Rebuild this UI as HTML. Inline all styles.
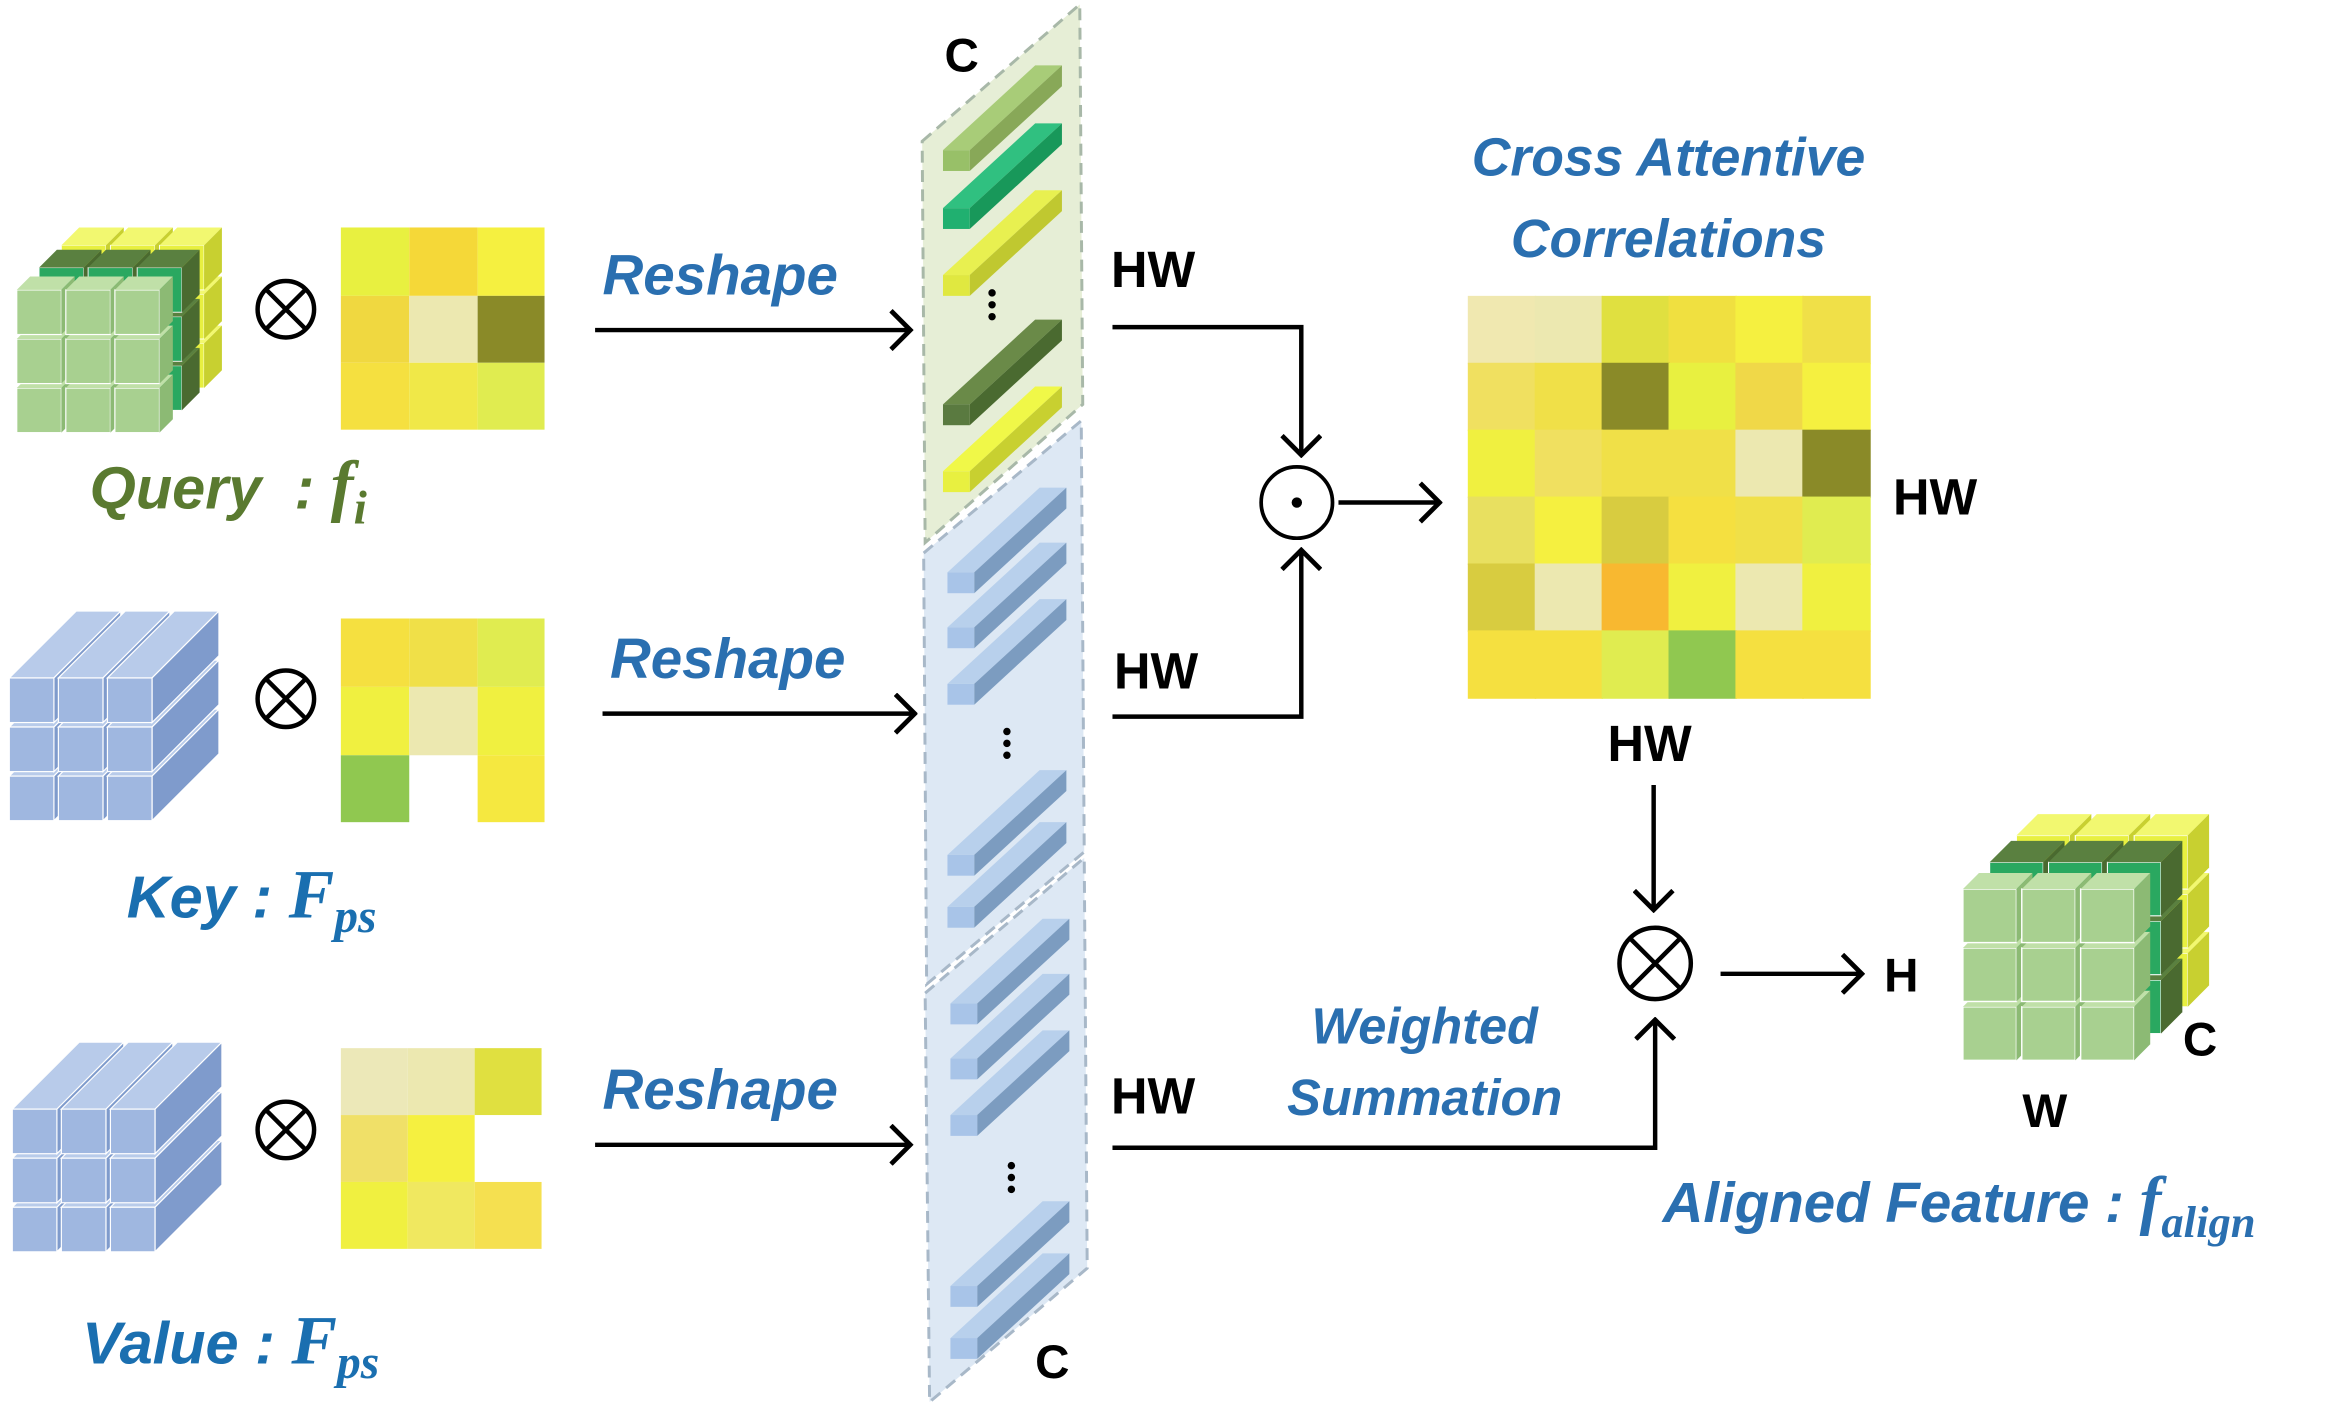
<!DOCTYPE html>
<html><head><meta charset="utf-8"><style>
html,body{margin:0;padding:0;background:#fff}
svg{display:block}
.t{font-family:"Liberation Sans",sans-serif;font-weight:bold;font-style:italic}
.b{font-family:"Liberation Sans",sans-serif;font-weight:bold;fill:#000}
</style></head><body>
<svg width="2332" height="1402" viewBox="0 0 1568 943" xmlns="http://www.w3.org/2000/svg">
<defs>
<marker id="ah" markerWidth="16" markerHeight="28" refX="14" refY="14" orient="auto" markerUnits="userSpaceOnUse" viewBox="0 0 16 28">
<path d="M1,1 L14,14 L1,27" fill="none" stroke="#000" stroke-width="3.2"/></marker>
<g id="cy"><rect x="0" y="0" width="30" height="30" fill="#e8f040" stroke="#fff" stroke-width="0.6"/><polygon points="0,0 12,-12 42,-12 30,0" fill="#f2f870"/><polygon points="30,0 42,-12 42,18 30,30" fill="#c8d030"/></g>
<g id="cd"><rect x="0" y="0" width="30" height="30" fill="#2aa860" stroke="#fff" stroke-width="0.6"/><polygon points="0,0 12,-12 42,-12 30,0" fill="#5a8040"/><polygon points="30,0 42,-12 42,18 30,30" fill="#4a6a30"/></g>
<g id="cg"><rect x="0" y="0" width="30" height="30" fill="#a8d090" stroke="#fff" stroke-width="0.8"/><polygon points="0,0 9,-9 39,-9 30,0" fill="#c0e0a8"/><polygon points="30,0 39,-9 39,21 30,30" fill="#8cba74"/></g>
<g id="Ly"><use href="#cy" x="0" y="66"/><use href="#cy" x="33" y="66"/><use href="#cy" x="66" y="66"/><use href="#cy" x="0" y="33"/><use href="#cy" x="33" y="33"/><use href="#cy" x="66" y="33"/><use href="#cy" x="0" y="0"/><use href="#cy" x="33" y="0"/><use href="#cy" x="66" y="0"/></g>
<g id="Ld"><use href="#cd" x="0" y="66"/><use href="#cd" x="33" y="66"/><use href="#cd" x="66" y="66"/><use href="#cd" x="0" y="33"/><use href="#cd" x="33" y="33"/><use href="#cd" x="66" y="33"/><use href="#cd" x="0" y="0"/><use href="#cd" x="33" y="0"/><use href="#cd" x="66" y="0"/></g>
<g id="Lg"><use href="#cg" x="0" y="66"/><use href="#cg" x="33" y="66"/><use href="#cg" x="66" y="66"/><use href="#cg" x="0" y="33"/><use href="#cg" x="33" y="33"/><use href="#cg" x="66" y="33"/><use href="#cg" x="0" y="0"/><use href="#cg" x="33" y="0"/><use href="#cg" x="66" y="0"/></g>
<g id="qc"><use href="#Ly" x="30" y="-30"/><use href="#Ld" x="15" y="-15"/><use href="#Lg" x="0" y="0"/></g>
<g id="bb"><polygon points="0,0 45,-45 75,-45 30,0" fill="#b8cbea" stroke="#fff" stroke-width="0.8"/><polygon points="30,0 75,-45 75,-15 30,30" fill="#7f9bcc" stroke="#fff" stroke-width="0.8"/><rect x="0" y="0" width="30" height="30" fill="#9fb7e0" stroke="#fff" stroke-width="0.8"/></g>
<g id="kc"><use href="#bb" x="0" y="66"/><use href="#bb" x="33" y="66"/><use href="#bb" x="66" y="66"/><use href="#bb" x="0" y="33"/><use href="#bb" x="33" y="33"/><use href="#bb" x="66" y="33"/><use href="#bb" x="0" y="0"/><use href="#bb" x="33" y="0"/><use href="#bb" x="66" y="0"/></g>
<g id="bl"><polygon points="0,0 62,-57 80,-57 18,0" fill="#b8d0ec"/><polygon points="18,0 80,-57 80,-43 18,14" fill="#7c9cc0"/><rect width="18" height="14" fill="#a8c4e8"/></g>
</defs>

<!-- Query -->
<use href="#qc" x="11" y="195"/>
<circle cx="192" cy="208" r="19" fill="none" stroke="#000" stroke-width="3"/>
<path d="M179,195 L205,221 M205,195 L179,221" stroke="#000" stroke-width="3"/>
<g>
<rect x="229" y="153" width="46" height="46" fill="#e8f040"/><rect x="275" y="153" width="46" height="46" fill="#f5d838"/><rect x="321" y="153" width="45" height="46" fill="#f5f040"/>
<rect x="229" y="199" width="46" height="45" fill="#f0d840"/><rect x="275" y="199" width="46" height="45" fill="#ece8b0"/><rect x="321" y="199" width="45" height="45" fill="#8a8a28"/>
<rect x="229" y="244" width="46" height="45" fill="#f5e040"/><rect x="275" y="244" width="46" height="45" fill="#f0e848"/><rect x="321" y="244" width="45" height="45" fill="#e0ec50"/>
</g>
<text x="60" y="342" class="t" font-size="40" fill="#5a7a30">Query&#160; : <tspan font-family="Liberation Serif" font-size="46">f</tspan><tspan font-family="Liberation Serif" font-size="32" dy="10">i</tspan></text>
<text x="405" y="198" class="t" font-size="38" fill="#2a6fb0">Reshape</text>
<line x1="400" y1="222" x2="612" y2="222" stroke="#000" stroke-width="3" marker-end="url(#ah)"/>

<!-- Key -->
<use href="#kc" x="6" y="456"/>
<circle cx="192" cy="470" r="19" fill="none" stroke="#000" stroke-width="3"/>
<path d="M179,457 L205,483 M205,457 L179,483" stroke="#000" stroke-width="3"/>
<g>
<rect x="229" y="416" width="46" height="46" fill="#f5e040"/><rect x="275" y="416" width="46" height="46" fill="#f0e048"/><rect x="321" y="416" width="45" height="46" fill="#e0ec50"/>
<rect x="229" y="462" width="46" height="46" fill="#f0f040"/><rect x="275" y="462" width="46" height="46" fill="#ece8b0"/><rect x="321" y="462" width="45" height="46" fill="#f0f040"/>
<rect x="229" y="508" width="46" height="45" fill="#90c850"/><rect x="321" y="508" width="45" height="45" fill="#f5e840"/>
</g>
<text x="85" y="617" class="t" font-size="40" fill="#1a6fb0">Key : <tspan font-family="Liberation Serif" font-size="46">F</tspan><tspan font-family="Liberation Serif" font-size="32" dy="10">ps</tspan></text>
<text x="410" y="456" class="t" font-size="38" fill="#2a6fb0">Reshape</text>
<line x1="405" y1="480" x2="615" y2="480" stroke="#000" stroke-width="3" marker-end="url(#ah)"/>

<!-- Value -->
<use href="#kc" x="8" y="746"/>
<circle cx="192" cy="760" r="19" fill="none" stroke="#000" stroke-width="3"/>
<path d="M179,747 L205,773 M205,747 L179,773" stroke="#000" stroke-width="3"/>
<g>
<rect x="229" y="705" width="45" height="45" fill="#ece8b8"/><rect x="274" y="705" width="45" height="45" fill="#ece8b0"/><rect x="319" y="705" width="45" height="45" fill="#e0e040"/>
<rect x="229" y="750" width="45" height="45" fill="#f0e068"/><rect x="274" y="750" width="45" height="45" fill="#f5f040"/>
<rect x="229" y="795" width="45" height="45" fill="#f0f040"/><rect x="274" y="795" width="45" height="45" fill="#f0e860"/><rect x="319" y="795" width="45" height="45" fill="#f5e050"/>
</g>
<text x="55" y="917" class="t" font-size="40" fill="#1a6fb0">Value : <tspan font-family="Liberation Serif" font-size="46">F</tspan><tspan font-family="Liberation Serif" font-size="32" dy="10">ps</tspan></text>
<text x="405" y="746" class="t" font-size="38" fill="#2a6fb0">Reshape</text>
<line x1="400" y1="770" x2="612" y2="770" stroke="#000" stroke-width="3" marker-end="url(#ah)"/>

<!-- central panels -->
<polygon points="620,95 726,3 728,272 622,365" fill="#e6eed6" stroke="#a8b8a8" stroke-width="2" stroke-dasharray="8,5"/>
<polygon points="621,372 727,283 729,573 623,662" fill="#dde8f4" stroke="#a8b8c8" stroke-width="2" stroke-dasharray="8,5"/>
<polygon points="622,668 729,577 731,853 625,943" fill="#dde8f4" stroke="#a8b8c8" stroke-width="2" stroke-dasharray="8,5"/>
<g>
<g transform="translate(634,101)"><polygon points="0,0 62,-57 80,-57 18,0" fill="#a8cc78"/><polygon points="18,0 80,-57 80,-43 18,14" fill="#88a858"/><rect width="18" height="14" fill="#98c068"/></g>
<g transform="translate(634,140)"><polygon points="0,0 62,-57 80,-57 18,0" fill="#30c080"/><polygon points="18,0 80,-57 80,-43 18,14" fill="#18985a"/><rect width="18" height="14" fill="#20b070"/></g>
<g transform="translate(634,185)"><polygon points="0,0 62,-57 80,-57 18,0" fill="#e8f050"/><polygon points="18,0 80,-57 80,-43 18,14" fill="#c0c830"/><rect width="18" height="14" fill="#e0e840"/></g>
<g transform="translate(634,272)"><polygon points="0,0 62,-57 80,-57 18,0" fill="#6a8a48"/><polygon points="18,0 80,-57 80,-43 18,14" fill="#4a6a30"/><rect width="18" height="14" fill="#5a7a40"/></g>
<g transform="translate(634,317)"><polygon points="0,0 62,-57 80,-57 18,0" fill="#f0f848"/><polygon points="18,0 80,-57 80,-43 18,14" fill="#c8d030"/><rect width="18" height="14" fill="#e8f040"/></g>
<circle cx="667" cy="197" r="2.5"/><circle cx="667" cy="205" r="2.5"/><circle cx="667" cy="213" r="2.5"/>
</g>
<use href="#bl" x="637" y="385"/><use href="#bl" x="637" y="422"/><use href="#bl" x="637" y="460"/>
<use href="#bl" x="637" y="575"/><use href="#bl" x="637" y="610"/>
<use href="#bl" x="639" y="675"/><use href="#bl" x="639" y="712"/><use href="#bl" x="639" y="750"/>
<use href="#bl" x="639" y="865"/><use href="#bl" x="639" y="900"/>
<circle cx="677" cy="492" r="2.5"/><circle cx="677" cy="500" r="2.5"/><circle cx="677" cy="508" r="2.5"/>
<circle cx="680" cy="784" r="2.5"/><circle cx="680" cy="792" r="2.5"/><circle cx="680" cy="800" r="2.5"/>
<text x="635" y="48" class="b" font-size="32">C</text>
<text x="696" y="927" class="b" font-size="32">C</text>

<!-- HW and connectors -->
<text x="747" y="193" class="b" font-size="34">HW</text>
<text x="749" y="463" class="b" font-size="34">HW</text>
<text x="747" y="749" class="b" font-size="34">HW</text>
<polyline points="748,220 875,220 875,306" fill="none" stroke="#000" stroke-width="3" marker-end="url(#ah)"/>
<polyline points="748,482 875,482 875,370" fill="none" stroke="#000" stroke-width="3" marker-end="url(#ah)"/>
<circle cx="872" cy="338" r="24" fill="none" stroke="#000" stroke-width="2.5"/>
<circle cx="872" cy="338" r="3.5"/>
<line x1="900" y1="338" x2="968" y2="338" stroke="#000" stroke-width="3" marker-end="url(#ah)"/>

<text x="1122" y="118" class="t" font-size="36" fill="#2a6fb0" text-anchor="middle">Cross Attentive</text>
<text x="1122" y="173" class="t" font-size="36" fill="#2a6fb0" text-anchor="middle">Correlations</text>
<g>
<rect x="987" y="199" width="46" height="46" fill="#f0e8b0"/><rect x="1032" y="199" width="46" height="46" fill="#ece8b0"/><rect x="1077" y="199" width="46" height="46" fill="#e0e040"/><rect x="1122" y="199" width="46" height="46" fill="#f0e040"/><rect x="1167" y="199" width="46" height="46" fill="#f5f040"/><rect x="1212" y="199" width="46" height="46" fill="#f0e048"/>
<rect x="987" y="244" width="46" height="46" fill="#f0e060"/><rect x="1032" y="244" width="46" height="46" fill="#f0e048"/><rect x="1077" y="244" width="46" height="46" fill="#8a8a28"/><rect x="1122" y="244" width="46" height="46" fill="#e8f040"/><rect x="1167" y="244" width="46" height="46" fill="#f0d848"/><rect x="1212" y="244" width="46" height="46" fill="#f5f040"/>
<rect x="987" y="289" width="46" height="46" fill="#f0f040"/><rect x="1032" y="289" width="46" height="46" fill="#f0e060"/><rect x="1077" y="289" width="46" height="46" fill="#f0e048"/><rect x="1122" y="289" width="46" height="46" fill="#f0e048"/><rect x="1167" y="289" width="46" height="46" fill="#ece8b0"/><rect x="1212" y="289" width="46" height="46" fill="#8a8a28"/>
<rect x="987" y="334" width="46" height="46" fill="#e8e060"/><rect x="1032" y="334" width="46" height="46" fill="#f5f040"/><rect x="1077" y="334" width="46" height="46" fill="#d8cc40"/><rect x="1122" y="334" width="46" height="46" fill="#f5e040"/><rect x="1167" y="334" width="46" height="46" fill="#f0e048"/><rect x="1212" y="334" width="46" height="46" fill="#e0ec50"/>
<rect x="987" y="379" width="46" height="46" fill="#d8cc40"/><rect x="1032" y="379" width="46" height="46" fill="#ece8b0"/><rect x="1077" y="379" width="46" height="46" fill="#f8b830"/><rect x="1122" y="379" width="46" height="46" fill="#f0f040"/><rect x="1167" y="379" width="46" height="46" fill="#ece8b0"/><rect x="1212" y="379" width="46" height="46" fill="#f0f040"/>
<rect x="987" y="424" width="46" height="46" fill="#f5e040"/><rect x="1032" y="424" width="46" height="46" fill="#f5e040"/><rect x="1077" y="424" width="46" height="46" fill="#e0ec50"/><rect x="1122" y="424" width="46" height="46" fill="#90c850"/><rect x="1167" y="424" width="46" height="46" fill="#f5e040"/><rect x="1212" y="424" width="46" height="46" fill="#f5e040"/>
</g>
<text x="1273" y="346" class="b" font-size="34">HW</text>
<text x="1081" y="512" class="b" font-size="34">HW</text>
<line x1="1112" y1="528" x2="1112" y2="612" stroke="#000" stroke-width="3" marker-end="url(#ah)"/>
<circle cx="1113" cy="648" r="24" fill="none" stroke="#000" stroke-width="3"/>
<path d="M1096,631 L1130,665 M1130,631 L1096,665" stroke="#000" stroke-width="3"/>
<polyline points="748,772 1113,772 1113,686" fill="none" stroke="#000" stroke-width="3" marker-end="url(#ah)"/>
<line x1="1157" y1="655" x2="1252" y2="655" stroke="#000" stroke-width="3" marker-end="url(#ah)"/>
<text x="1267" y="667" class="b" font-size="32">H</text>
<text x="958" y="702" class="t" font-size="34" fill="#2a6fb0" text-anchor="middle">Weighted</text>
<text x="958" y="750" class="t" font-size="34" fill="#2a6fb0" text-anchor="middle">Summation</text>

<use href="#qc" transform="translate(1320,598) scale(1.2)"/>
<text x="1468" y="710" class="b" font-size="32">C</text>
<text x="1360" y="758" class="b" font-size="32">W</text>
<text x="1118" y="822" class="t" font-size="38" fill="#2a6fb0">Aligned Feature : <tspan font-family="Liberation Serif" font-size="44">f</tspan><tspan font-family="Liberation Serif" font-size="30" dy="10">align</tspan></text>
</svg>
</body></html>
